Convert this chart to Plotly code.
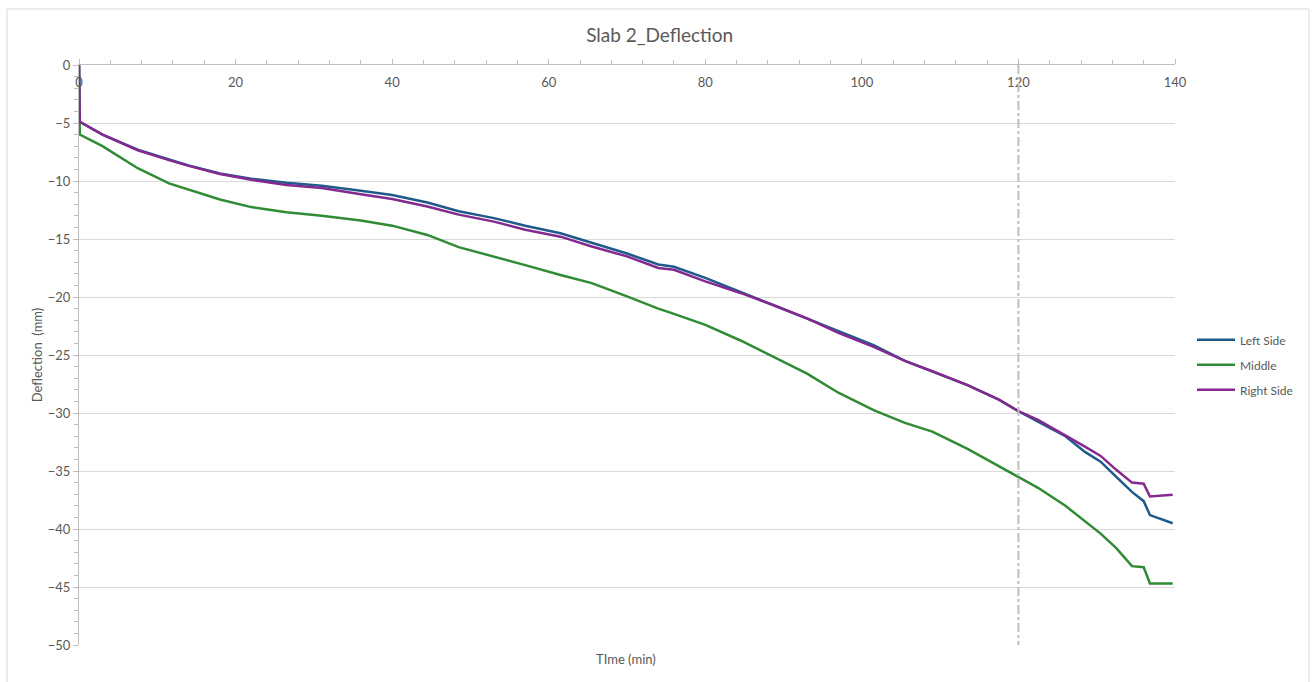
import plotly.graph_objects as go

# Elapsed time (min) and deflection readings (mm) for the three gauges
time_min = [0, 0.1, 3, 7.5, 11.5, 14, 18, 22, 26.5, 31, 36, 40, 44.5, 48.5, 53,
            57, 61.5, 65.5, 70, 74, 76, 80, 84.5, 88.5, 93, 97, 101.5, 105.5,
            109, 113.5, 117.5, 120, 122.5, 126, 128.5, 130.5, 132.5, 134.5,
            136, 136.8, 139.7]

left_side = [0, -4.9, -6.0, -7.3, -8.15, -8.65, -9.35, -9.8, -10.15, -10.4,
             -10.85, -11.2, -11.85, -12.6, -13.2, -13.85, -14.5, -15.3, -16.25,
             -17.2, -17.4, -18.35, -19.55, -20.65, -21.85, -22.95, -24.15,
             -25.5, -26.4, -27.6, -28.85, -29.85, -30.75, -32.0, -33.35,
             -34.2, -35.5, -36.8, -37.6, -38.8, -39.5]

middle = [0, -6.0, -7.0, -8.9, -10.2, -10.75, -11.6, -12.25, -12.7, -13.0,
          -13.4, -13.85, -14.65, -15.7, -16.5, -17.25, -18.1, -18.8, -19.95,
          -21.0, -21.45, -22.4, -23.75, -25.1, -26.6, -28.25, -29.75, -30.85,
          -31.6, -33.1, -34.6, -35.55, -36.45, -38.0, -39.3, -40.4, -41.65,
          -43.2, -43.3, -44.7, -44.7]

right_side = [0, -4.9, -6.0, -7.35, -8.2, -8.7, -9.4, -9.9, -10.35, -10.6,
              -11.15, -11.55, -12.2, -12.9, -13.5, -14.2, -14.8, -15.65, -16.5,
              -17.5, -17.65, -18.65, -19.65, -20.65, -21.85, -23.1, -24.3,
              -25.5, -26.4, -27.6, -28.85, -29.85, -30.6, -31.9, -32.9, -33.7,
              -34.9, -36.0, -36.1, -37.2, -37.05]

series_names = ["Left Side", "Middle", "Right Side"]
series_colors = ["#1f5a8a", "#2f8b34", "#84298f"]

# Reference time marked with a dash-dot line
marker_time = 120

GRID = "#d9d9d9"
AXIS = "#bfbfbf"
TEXT = "#595959"
FONT = "Lato, 'Open Sans', sans-serif"

fig = go.Figure()
for name, values, color in zip(series_names, [left_side, middle, right_side], series_colors):
    fig.add_trace(go.Scatter(
        x=time_min, y=values, name=name, mode="lines",
        line=dict(color=color, width=2.5),
        legendgroup=name,
    ))

fig.add_shape(type="line", xref="x", yref="y",
              x0=marker_time, x1=marker_time, y0=0, y1=-50,
              line=dict(color=AXIS, width=2, dash="dashdot"))

# Outer chart border
fig.add_shape(type="rect", xref="paper", yref="paper",
              x0=-0.0657, x1=1.1223, y0=-0.08, y1=1.0966,
              line=dict(color="#d9d9d9", width=1), layer="below")

fig.add_annotation(text="TIme (min)", xref="paper", yref="paper",
                   x=0.499, y=-0.024, showarrow=False,
                   xanchor="center", yanchor="middle",
                   font=dict(size=13, color=TEXT, family=FONT))

fig.update_layout(
    width=1314, height=682,
    margin=dict(l=79, r=139, t=65, b=37),
    paper_bgcolor="white", plot_bgcolor="white",
    font=dict(family=FONT, color=TEXT, size=12),
    title=dict(text="Slab 2_Deflection", x=0.502, xanchor="center",
               y=1 - 35 / 682, yanchor="middle",
               font=dict(size=19, color=TEXT, family=FONT)),
    showlegend=True,
    legend=dict(x=1.0155, y=0.483, xanchor="left", yanchor="middle",
                font=dict(size=12, color=TEXT, family=FONT),
                itemwidth=38,
                tracegroupgap=6, bgcolor="rgba(0,0,0,0)"),
    xaxis=dict(
        range=[0, 140], dtick=20, tick0=0,
        side="top", ticklabelposition="inside", ticklabeloverflow="allow",
        ticklabelstandoff=13,
        showline=True, linecolor=AXIS, linewidth=1,
        showgrid=False, zeroline=False,
        ticks="outside", ticklen=5, tickcolor=AXIS,
        minor=dict(dtick=4, ticks="outside", ticklen=4, tickcolor=AXIS, showgrid=False),
        tickfont=dict(size=13, color=TEXT),
    ),
    yaxis=dict(
        range=[-50, 0], dtick=5, tick0=0,
        showline=True, linecolor=AXIS, linewidth=1,
        showgrid=True, gridcolor=GRID, gridwidth=1, zeroline=False,
        ticks="outside", ticklen=5, tickcolor=AXIS,
        minor=dict(dtick=1, ticks="outside", ticklen=4, tickcolor=AXIS, showgrid=False),
        tickfont=dict(size=13, color=TEXT),
        title=dict(text="Deflection  (mm)", standoff=2,
                   font=dict(size=13, color=TEXT, family=FONT)),
    ),
)

fig.write_html("out.html")
